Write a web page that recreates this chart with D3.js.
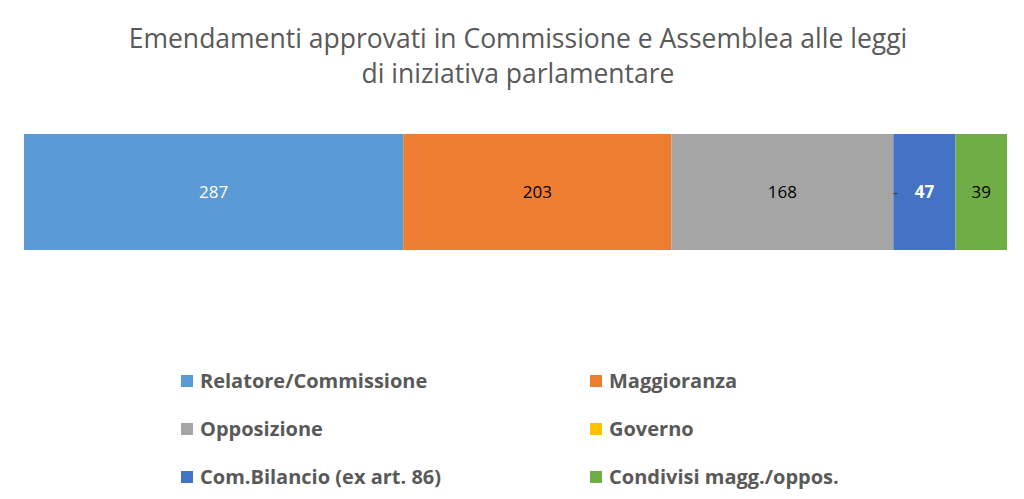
<!DOCTYPE html>
<html><head><meta charset="utf-8">
<script src="https://cdn.jsdelivr.net/npm/d3@7"></script>
<style>body{margin:0;background:#fff;} svg{display:block;}</style>
</head><body>
<svg id="c" width="1024" height="499"></svg>
<script>
const categories = ["Relatore/Commissione","Maggioranza","Opposizione","Governo","Com.Bilancio (ex art. 86)","Condivisi magg./oppos."];
const values = [287, 203, 168, 0, 47, 39];
const colors = ["#5B9BD5","#ED7D31","#A5A5A5","#FFC000","#4472C4","#70AD47"];
const labelColors = ["#ffffff","#000000","#000000","#404040","#ffffff","#000000"];
const labelWeights = ["normal","normal","normal","normal","bold","normal"];
const titleLines = ["Emendamenti approvati in Commissione e Assemblea alle leggi","di iniziativa parlamentare"];

const svg = d3.select("#c");
const font = "'Open Sans', sans-serif";
const total = d3.sum(values);
const x = d3.scaleLinear().domain([0,total]).range([24,1007]);
const y = d3.scaleBand().domain(["bar"]).range([134,250]);

let cum = 0;
const segs = values.map((v,i)=>{const s={i,v,x0:cum,x1:cum+v};cum+=v;return s;});

svg.selectAll("text.title").data(titleLines).join("text")
  .attr("x",518).attr("y",(d,i)=>48+i*35)
  .attr("text-anchor","middle").attr("font-family",font).attr("font-size",26.5)
  .attr("fill","#595959").text(d=>d);

svg.selectAll("rect.seg").data(segs).join("rect")
  .attr("x",d=>x(d.x0)).attr("width",d=>x(d.x1)-x(d.x0))
  .attr("y",y("bar")).attr("height",y.bandwidth())
  .attr("fill",d=>colors[d.i]);

svg.selectAll("text.lab").data(segs).join("text")
  .attr("x",d=>(x(d.x0)+x(d.x1))/2 + (d.v===0?2:0))
  .attr("y",y("bar")+y.bandwidth()/2+6)
  .attr("text-anchor","middle").attr("font-family",font).attr("font-size",17)
  .attr("font-weight",d=>labelWeights[d.i])
  .attr("fill",d=>labelColors[d.i])
  .text(d=>d.v===0?"-":d.v);

const lg = svg.append("g");
const colX = [181, 590];
const rowY = [381, 429, 477];
categories.forEach((c,i)=>{
  const cx = colX[i%2], cy = rowY[Math.floor(i/2)];
  lg.append("rect").attr("x",cx).attr("y",cy-6).attr("width",12).attr("height",12).attr("fill",colors[i]);
  lg.append("text").attr("x",cx+19).attr("y",cy+7).attr("font-family",font)
    .attr("font-size",20).attr("font-weight","bold").attr("fill","#595959").text(c);
});
</script>
</body></html>
